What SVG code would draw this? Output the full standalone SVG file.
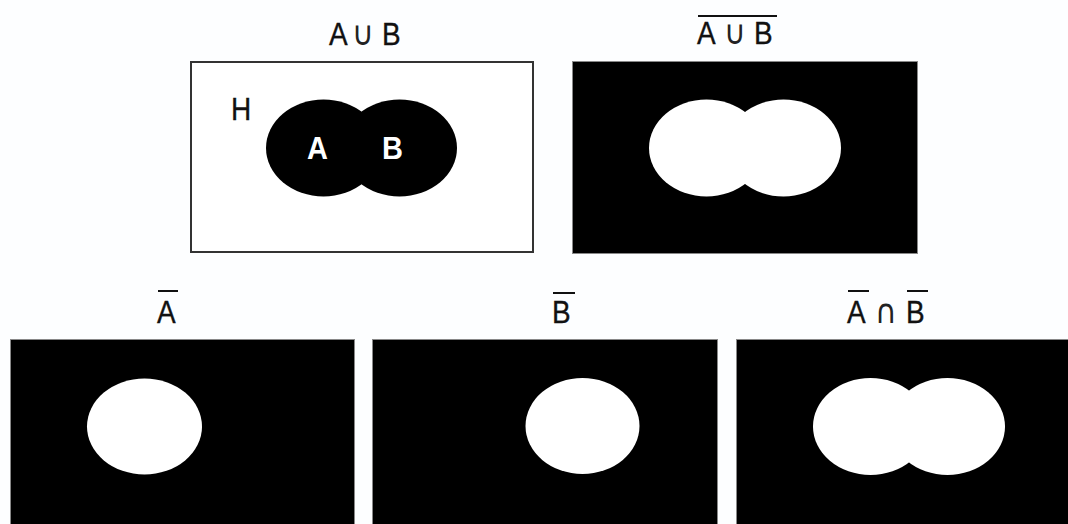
<svg xmlns="http://www.w3.org/2000/svg" width="1068" height="524" viewBox="0 0 1068 524">
<style>
.t{font-family:"Liberation Sans","DejaVu Sans",sans-serif;font-size:28px;fill:#111;stroke:#111;stroke-width:0.3}
.op{font-family:"DejaVu Sans","Liberation Sans",sans-serif;font-size:30px;fill:#222}
.w{font-family:"Liberation Sans","DejaVu Sans",sans-serif;font-size:29px;font-weight:bold;fill:#fff}
.ov{stroke:#111;stroke-width:2}
.blk{fill:#000;stroke:#888;stroke-width:1}
.wh{fill:#fff}
</style>
<rect width="1068" height="524" fill="#fdfeff"/>
<g id="union">
  <g transform="translate(329,45) scale(1,1.12)"><text class="t" x="0" y="0">A</text></g>
  <g transform="translate(352,45) scale(1,1.12)"><text class="op" x="0" y="0">∪</text></g>
  <g transform="translate(382,45) scale(1,1.12)"><text class="t" x="0" y="0">B</text></g>
  <rect x="191" y="62" width="342" height="190" fill="#fff" stroke="#333" stroke-width="2"/>
  <g transform="translate(231,120) scale(1,1.12)"><text class="t" x="0" y="0">H</text></g>
  <ellipse cx="323.5" cy="148" rx="57.5" ry="48.5" fill="#000"/>
  <ellipse cx="399.5" cy="148" rx="57.5" ry="48.5" fill="#000"/>
  <g transform="translate(307,159) scale(1,1.1)"><text class="w" x="0" y="0">A</text></g>
  <g transform="translate(382,159) scale(1,1.1)"><text class="w" x="0" y="0">B</text></g>
</g>
<g id="not-union">
  <line class="ov" x1="698" y1="16" x2="777" y2="16"/>
  <g transform="translate(697,44) scale(1,1.12)"><text class="t" x="0" y="0">A</text></g>
  <g transform="translate(724,44) scale(1,1.12)"><text class="op" x="0" y="0">∪</text></g>
  <g transform="translate(754,44) scale(1,1.12)"><text class="t" x="0" y="0">B</text></g>
  <rect class="blk" x="572.5" y="61.5" width="345" height="192"/>
  <ellipse class="wh" cx="706.5" cy="148" rx="57.5" ry="48.5"/>
  <ellipse class="wh" cx="783.5" cy="148" rx="57.5" ry="48.5"/>
</g>
<g id="not-a">
  <line class="ov" x1="158" y1="291" x2="178" y2="291"/>
  <g transform="translate(157,323) scale(1,1.12)"><text class="t" x="0" y="0">A</text></g>
  <rect class="blk" x="10.5" y="339.5" width="344" height="190"/>
  <ellipse class="wh" cx="144.5" cy="426.5" rx="57.5" ry="48"/>
</g>
<g id="not-b">
  <line class="ov" x1="553" y1="293" x2="575" y2="293"/>
  <g transform="translate(552,323) scale(1,1.12)"><text class="t" x="0" y="0">B</text></g>
  <rect class="blk" x="372.5" y="339.5" width="345" height="190"/>
  <ellipse class="wh" cx="582.5" cy="426" rx="57" ry="48"/>
</g>
<g id="not-a-and-not-b">
  <line class="ov" x1="848" y1="291" x2="869" y2="291"/>
  <line class="ov" x1="907" y1="291" x2="928" y2="291"/>
  <g transform="translate(847,323) scale(1,1.12)"><text class="t" x="0" y="0">A</text></g>
  <g transform="translate(875,323) scale(1,1.12)"><text class="op" x="0" y="0">∩</text></g>
  <g transform="translate(906,323) scale(1,1.12)"><text class="t" x="0" y="0">B</text></g>
  <rect class="blk" x="736.5" y="339.5" width="340" height="190"/>
  <ellipse class="wh" cx="870.5" cy="426.5" rx="57.5" ry="48.5"/>
  <ellipse class="wh" cx="947.5" cy="426.5" rx="57.5" ry="48.5"/>
</g>
<g id="connectors"/>
</svg>
